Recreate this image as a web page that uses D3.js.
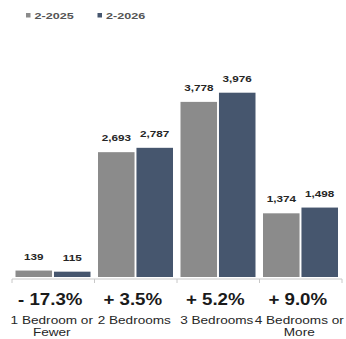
<!DOCTYPE html>
<html>
<head>
<meta charset="utf-8">
<script src="https://cdn.jsdelivr.net/npm/d3@7"></script>
<style>
  html, body { margin: 0; padding: 0; background: #fff; }
  svg { display: block; font-family: "Liberation Sans", Arial, sans-serif; }
</style>
</head>
<body>
<svg id="chart" width="346" height="339"></svg>
<script>
// Bedroom categories, two periods, and the year-over-year change labels
const categories = ["1 Bedroom or Fewer", "2 Bedrooms", "3 Bedrooms", "4 Bedrooms or More"];
const categoryLines = [["1 Bedroom or", "Fewer"], ["2 Bedrooms"], ["3 Bedrooms"], ["4 Bedrooms or", "More"]];
const seriesNames = ["2-2025", "2-2026"];
const values2025 = [139, 2693, 3778, 1374];
const values2026 = [115, 2787, 3976, 1498];
const changeLabels = ["- 17.3%", "+ 3.5%", "+ 5.2%", "+ 9.0%"];
const colors = ["#8b8b8b", "#46566e"];

const svg = d3.select("#chart");
const baseY = 277;

const x0 = d3.scaleBand().domain(categories).range([12, 342]).padding(0);
const x1 = d3.scaleBand().domain(seriesNames).range([3.5, x0.bandwidth() - 4]).paddingInner(0.05);
const y = d3.scaleLinear().domain([0, 3976]).range([baseY, 92.7]);

const fmt = d3.format(",");

// stretched text helper (wide lettering)
function wideText(g, xPos, yPos, str, sx) {
  return g.append("text")
    .attr("transform", `translate(${xPos},${yPos}) scale(${sx},1)`)
    .text(str);
}

// bars with value labels
const groups = svg.append("g").selectAll("g")
  .data(categories)
  .join("g")
  .attr("transform", d => `translate(${x0(d)},0)`);

groups.each(function(cat, i) {
  const g = d3.select(this);
  const vals = [values2025[i], values2026[i]];
  vals.forEach((v, j) => {
    g.append("rect")
      .attr("x", x1(seriesNames[j]))
      .attr("y", y(v))
      .attr("width", x1.bandwidth())
      .attr("height", baseY - y(v))
      .attr("fill", colors[j]);
    wideText(g, x1(seriesNames[j]) + x1.bandwidth() / 2, y(v) - 11, fmt(v), 1.3)
      .attr("text-anchor", "middle")
      .attr("font-size", 9)
      .attr("font-weight", "bold")
      .attr("fill", "#262626");
  });
});

// category axis: baseline with separators between groups
const axis = d3.axisBottom(x0).tickSize(4).tickFormat("");
const axisG = svg.append("g").attr("transform", `translate(0,${baseY + 2})`).call(axis);
axisG.select(".domain").attr("stroke", "#c8c8c8").attr("d", `M12,0H342`);
axisG.selectAll(".tick").remove();
const boundaries = categories.map(c => x0(c)).concat([x0.range()[1]]);
axisG.selectAll("line.sep").data(boundaries).join("line")
  .attr("class", "sep")
  .attr("x1", d => d).attr("x2", d => d)
  .attr("y1", 0).attr("y2", 4)
  .attr("stroke", "#c8c8c8");

// change percentages and category names
categories.forEach((c, i) => {
  const cx = x0(c) + x0.bandwidth() / 2;
  wideText(svg, cx - 3, 305, changeLabels[i], 1.1)
    .attr("text-anchor", "middle")
    .attr("font-size", 17)
    .attr("font-weight", "bold")
    .attr("fill", "#1a1a1a");
  categoryLines[i].forEach((line, k) => {
    wideText(svg, cx - 1.5, 324 + k * 11.5, line, 1.36)
      .attr("text-anchor", "middle")
      .attr("font-size", 10)
      .attr("fill", "#262626");
  });
});

// legend
const legend = svg.append("g");
const legendX = [26, 97.5];
seriesNames.forEach((s, j) => {
  legend.append("rect")
    .attr("x", legendX[j]).attr("y", 13)
    .attr("width", 4.5).attr("height", 4.5)
    .attr("fill", colors[j]);
  wideText(legend, legendX[j] + 8.5, 19, s, 1.4)
    .attr("font-size", 9)
    .attr("font-weight", "bold")
    .attr("fill", "#555");
});
</script>
</body>
</html>
